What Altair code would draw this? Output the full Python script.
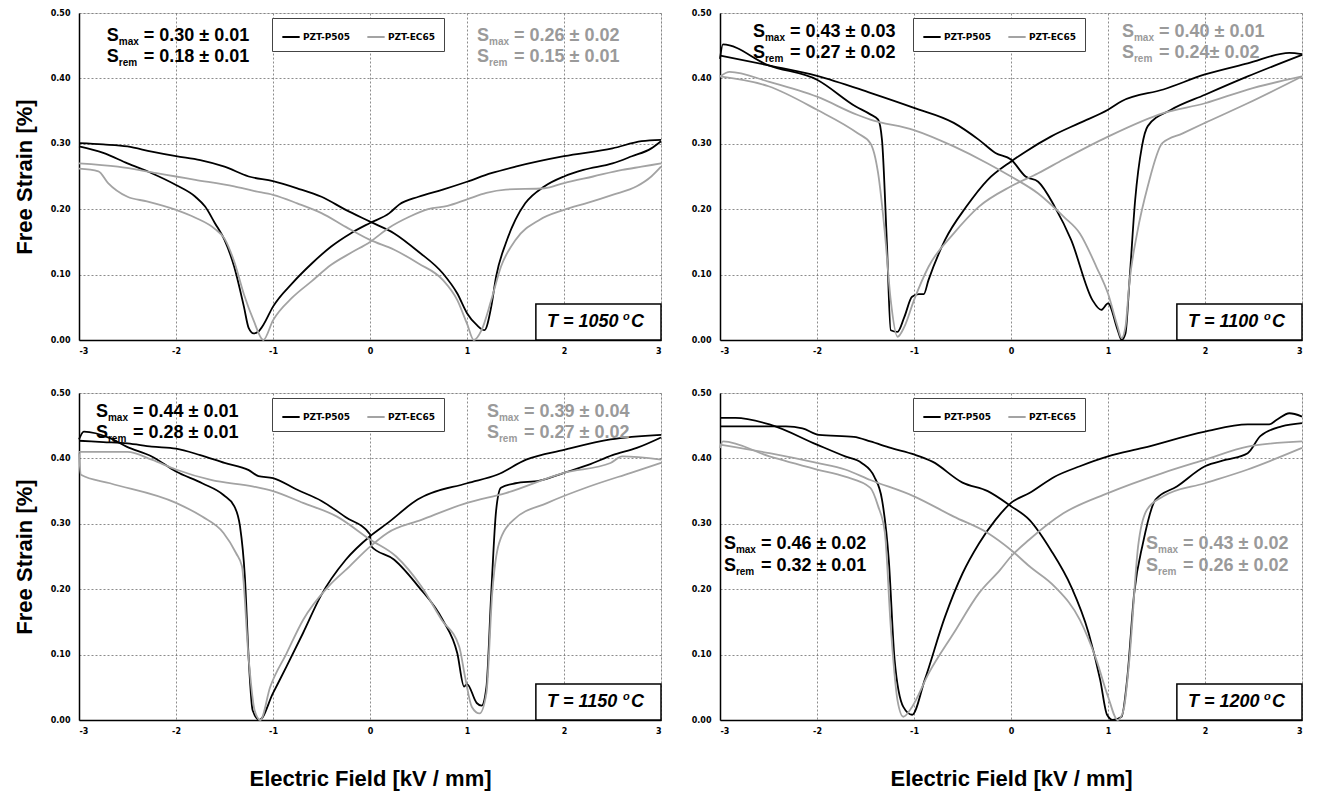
import altair as alt
import pandas as pd

# ---------------- data ----------------
SERIES = ["PZT-P505", "PZT-EC65"]
TEMPS = {"TL": 1050, "TR": 1100, "BL": 1150, "BR": 1200}

# 1050 C
TL_P505_a = [(-3, .301), (-2.75, .299), (-2.5, .296), (-2.25, .288), (-2, .281), (-1.75, .275), (-1.5, .265),
             (-1.25, .25), (-1, .243), (-.75, .232), (-.5, .219), (-.25, .199), (0, .181), (.25, .163), (.5, .135),
             (.75, .102), (.9, .071), (1, .041), (1.1, .023), (1.18, .015), (1.25, .051), (1.3, .097), (1.4, .148),
             (1.5, .184), (1.6, .209), (1.8, .235), (2, .25), (2.2, .26), (2.5, .27), (2.7, .281), (2.9, .293), (3, .304)]
TL_P505_b = [(-3, .296), (-2.75, .286), (-2.5, .27), (-2.25, .255), (-2, .237), (-1.8, .219), (-1.7, .204),
             (-1.6, .179), (-1.5, .153), (-1.4, .112), (-1.3, .051), (-1.25, .018), (-1.2, .01), (-1.15, .013),
             (-1.1, .023), (-1, .051), (-.8, .087), (-.6, .117), (-.4, .143), (-.2, .163), (0, .179), (.2, .194),
             (.3, .207), (.5, .219), (.75, .23), (1, .242), (1.25, .255), (1.5, .265), (2, .281), (2.5, .293),
             (2.8, .304), (3, .306)]
TL_EC65_a = [(-3, .27), (-2.6, .265), (-2.2, .255), (-2, .25), (-1.8, .245), (-1.4, .235), (-1.2, .228), (-1, .222),
             (-.75, .209), (-.5, .194), (-.25, .173), (0, .153), (.25, .138), (.5, .117), (.75, .092), (.9, .061),
             (1, .025), (1.07, 0), (1.15, .015), (1.25, .061), (1.35, .112), (1.5, .153), (1.75, .184), (2, .199),
             (2.25, .21), (2.5, .222), (2.75, .235), (2.9, .25), (3, .265)]
TL_EC65_b = [(-3, .262), (-2.8, .258), (-2.7, .24), (-2.5, .219), (-2.3, .212), (-2, .199), (-1.8, .187),
             (-1.6, .17), (-1.5, .155), (-1.4, .12), (-1.3, .07), (-1.2, .03), (-1.1, 0), (-1, .03), (-.8, .065),
             (-.6, .09), (-.4, .115), (-.2, .133), (0, .15), (.2, .172), (.4, .188), (.6, .2), (.8, .205), (1, .215),
             (1.2, .225), (1.4, .23), (1.8, .232), (2, .24), (2.3, .25), (2.6, .26), (2.8, .265), (3, .27)]

# 1100 C
TR_P505_a = [(-3, .435), (-2.5, .42), (-2, .404), (-1.45, .378), (-1, .355), (-.59, .332), (-.33, .306),
             (-.16, .286), (0, .276), (.15, .25), (.28, .242), (.45, .204), (.62, .153), (.84, .061), (.93, .046),
             (1, .056), (1.1, .015), (1.14, 0), (1.18, .01), (1.22, .087), (1.28, .214), (1.35, .296), (1.41, .327),
             (1.65, .352), (2, .375), (2.44, .403), (3, .436)]
TR_P505_b = [(-3, .43), (-2.97, .452), (-2.5, .42), (-2, .398), (-1.6, .357), (-1.45, .345), (-1.37, .337),
             (-1.33, .306), (-1.28, .15), (-1.24, .015), (-1.17, .0125), (-1.1, .035), (-1.02, .066), (-.95, .07),
             (-.9, .07), (-.85, .092), (-.68, .153), (-.46, .204), (-.24, .245), (0, .273), (.15, .288), (.41, .311),
             (.71, .332), (1, .352), (1.14, .365), (1.57, .383), (2, .406), (2.44, .423), (2.87, .439), (3, .437)]
TR_EC65_a = [(-3, .403), (-2.9, .41), (-2.5, .395), (-2, .372), (-1.58, .344), (-1.45, .337), (-1, .321),
             (-.59, .296), (-.24, .27), (0, .25), (.28, .224), (.54, .189), (.71, .163), (.88, .112), (1, .071),
             (1.1, .02), (1.14, .003), (1.18, .02), (1.22, .087), (1.3, .163), (1.41, .235), (1.56, .301),
             (1.77, .316), (2, .332), (2.44, .362), (3, .403)]
TR_EC65_b = [(-3, .403), (-2.5, .388), (-2, .352), (-1.58, .316), (-1.45, .301), (-1.37, .255), (-1.3, .163),
             (-1.24, .061), (-1.17, .005), (-1.1, .02), (-1, .061), (-.85, .112), (-.59, .163), (-.33, .204),
             (0, .235), (.28, .255), (.54, .276), (1, .311), (1.57, .347), (2, .362), (2.44, .383), (3, .403)]

# 1150 C
BL_P505_a = [(-3, .427), (-2.75, .425), (-2.5, .423), (-2.25, .418), (-2, .415), (-1.75, .405), (-1.5, .393),
             (-1.25, .382), (-1.15, .373), (-1, .37), (-.75, .352), (-.5, .335), (-.25, .31), (0, .284), (.01, .266),
             (.25, .245), (.5, .204), (.75, .153), (.9, .102), (.97, .051), (1, .055), (1.1, .026), (1.15, .022),
             (1.2, .05), (1.25, .194), (1.3, .32), (1.35, .355), (1.5, .362), (1.75, .366), (2, .378), (2.25, .39),
             (2.5, .405), (2.75, .416), (3, .432)]
BL_P505_b = [(-3, .429), (-2.95, .441), (-2.68, .431), (-2.51, .418), (-2.25, .403), (-2, .38), (-1.73, .362),
             (-1.51, .344), (-1.4, .327), (-1.34, .296), (-1.29, .219), (-1.25, .092), (-1.21, .015), (-1.14, 0),
             (-1, .041), (-.86, .082), (-.69, .133), (-.51, .189), (-.25, .245), (0, .281), (.18, .301), (.49, .337),
             (1, .362), (1.31, .375), (1.61, .398), (2, .413), (2.48, .429), (3, .436)]
BL_EC65_a = [(-3, .41), (-2.5, .41), (-2.25, .398), (-2, .383), (-1.64, .367), (-1.2, .357), (-1, .35),
             (-.69, .332), (-.34, .311), (0, .276), (.27, .25), (.53, .204), (.74, .153), (.92, .112), (.98, .066),
             (1.05, .02), (1.13, .01), (1.2, .041), (1.26, .194), (1.33, .27), (1.48, .306), (1.83, .332),
             (2.26, .357), (2.69, .378), (3, .393)]
BL_EC65_b = [(-3, .408), (-2.98, .375), (-2.68, .362), (-2, .332), (-1.73, .311), (-1.51, .286), (-1.38, .255),
             (-1.32, .235), (-1.25, .092), (-1.19, .015), (-1.13, 0), (-1.03, .05), (-.86, .102), (-.69, .153),
             (-.43, .204), (-.21, .235), (0, .265), (.18, .286), (.53, .306), (1, .332), (1.4, .347), (2, .378),
             (2.48, .393), (2.6, .403), (3, .398)]

# 1200 C
BR_P505_a = [(-3, .449), (-2.32, .449), (-2.15, .446), (-1.98, .436), (-1.62, .433), (-1.45, .426), (-1.24, .416),
             (-1, .406), (-.81, .395), (-.5, .363), (-.24, .35), (0, .327), (.19, .306), (.41, .26), (.62, .204),
             (.8, .133), (.92, .061), (.99, .008), (1.05, 0), (1.14, .005), (1.2, .066), (1.27, .194), (1.36, .27),
             (1.49, .337), (1.71, .357), (2, .388), (2.22, .398), (2.44, .408), (2.57, .434), (2.79, .449), (3, .454)]
BR_P505_b = [(-3, .462), (-2.84, .462), (-2.49, .452), (-2, .421), (-1.71, .403), (-1.54, .393), (-1.41, .372),
             (-1.33, .337), (-1.26, .245), (-1.2, .092), (-1.11, .02), (-1.02, .008), (-.89, .061), (-.68, .158),
             (-.5, .224), (-.33, .27), (-.16, .306), (0, .332), (.19, .347), (.45, .372), (.71, .388), (1, .403),
             (1.36, .416), (2, .441), (2.44, .452), (2.66, .452), (2.74, .459), (2.87, .469), (3, .464)]
BR_EC65_a = [(-3, .421), (-2.49, .408), (-2, .393), (-1.71, .383), (-1.45, .367), (-1, .342), (-.59, .311),
             (-.24, .286), (0, .26), (.19, .235), (.45, .204), (.71, .153), (.88, .092), (1, .036), (1.1, 0),
             (1.16, .015), (1.22, .092), (1.31, .265), (1.4, .321), (1.57, .342), (2, .362), (2.44, .383), (3, .416)]
BR_EC65_b = [(-3, .416), (-2.97, .426), (-2.49, .403), (-2, .383), (-1.71, .372), (-1.45, .355), (-1.37, .327),
             (-1.3, .286), (-1.24, .143), (-1.17, .03), (-1.11, .005), (-1.02, .02), (-.85, .071), (-.59, .133),
             (-.33, .194), (-.11, .23), (0, .25), (.19, .276), (.54, .316), (1, .347), (1.57, .378), (2, .398),
             (2.44, .418), (3, .426)]

CURVES = {
    "TL": [("PZT-P505", TL_P505_a), ("PZT-P505", TL_P505_b), ("PZT-EC65", TL_EC65_a), ("PZT-EC65", TL_EC65_b)],
    "TR": [("PZT-P505", TR_P505_a), ("PZT-P505", TR_P505_b), ("PZT-EC65", TR_EC65_a), ("PZT-EC65", TR_EC65_b)],
    "BL": [("PZT-P505", BL_P505_a), ("PZT-P505", BL_P505_b), ("PZT-EC65", BL_EC65_a), ("PZT-EC65", BL_EC65_b)],
    "BR": [("PZT-P505", BR_P505_a), ("PZT-P505", BR_P505_b), ("PZT-EC65", BR_EC65_a), ("PZT-EC65", BR_EC65_b)],
}

# S_max / S_rem values (black = P505, gray = EC65)
S_TEXT = {
    "TL": (("0.30 ± 0.01", "0.18 ± 0.01"), ("0.26 ± 0.02", "0.15 ± 0.01")),
    "TR": (("0.43 ± 0.03", "0.27 ± 0.02"), ("0.40 ± 0.01", "0.24± 0.02")),
    "BL": (("0.44 ± 0.01", "0.28 ± 0.01"), ("0.39 ± 0.04", "0.27 ± 0.02")),
    "BR": (("0.46 ± 0.02", "0.32 ± 0.01"), ("0.43 ± 0.02", "0.26 ± 0.02")),
}

# ---------------- layout / style ----------------
# annotation anchors (field, strain) for the black and gray blocks, plus the two baselines
ANCHOR = {
    "TL": (-2.714, 1.103, 0.457, 0.4255),
    "TR": (-2.66, 1.144, 0.464, 0.431),
    "BL": (-2.825, 1.206, 0.464, 0.431),
    "BR": (-2.96, 1.392, 0.261, 0.228),
}
BOX = (1.71, 3.0, 0.0, 0.055)
TEMP_POS = (1.825, 0.0203)

BLACK = "#000000"
GRAY = "#a3a3a3"
GRAY_TXT = "#9a9a9a"
W, H = 582, 327
TITLE_FONT = "Liberation Sans"
TICK_FONT = "DejaVu Sans"


def curve_df(key):
    rows = []
    for k, (series, pts) in enumerate(CURVES[key]):
        for i, (e, s) in enumerate(pts):
            rows.append({"E": e, "S": s, "series": series, "branch": f"{series}-{k}", "i": i})
    return pd.DataFrame(rows)


def annot_df(key):
    eb, eg, s1, s2 = ANCHOR[key]
    (b1, b2), (g1, g2) = S_TEXT[key]
    return pd.DataFrame([
        {"E": eb, "S": s1, "sub": "max", "rest": "= " + b1, "col": BLACK},
        {"E": eb, "S": s2, "sub": "rem", "rest": "= " + b2, "col": BLACK},
        {"E": eg, "S": s1, "sub": "max", "rest": "= " + g1, "col": GRAY_TXT},
        {"E": eg, "S": s2, "sub": "rem", "rest": "= " + g2, "col": GRAY_TXT},
    ])


def panel(key, left, bottom):
    xs = alt.Scale(domain=[-3, 3], nice=False, zero=False)
    ys = alt.Scale(domain=[0, 0.5], nice=False)
    common = dict(grid=True, gridDash=[2, 2], gridColor="#6f6f6f", gridWidth=0.8,
                  domainColor="black", domainWidth=1.5, ticks=False,
                  labelFont=TICK_FONT, labelFontWeight="bold", labelFontSize=8, labelColor="black",
                  titleFont=TITLE_FONT, titleFontWeight="bold", titleFontSize=22, titleColor="black")
    xaxis = alt.Axis(values=[-3, -2, -1, 0, 1, 2, 3],
                     labelExpr="datum.value < 0 ? '-' + (-datum.value) : '' + datum.value",
                     labelPadding=7, titlePadding=33,
                     title="Electric Field [kV / mm]" if bottom else None, **common)
    yaxis = alt.Axis(values=[0, 0.1, 0.2, 0.3, 0.4, 0.5], format=".2f", labelPadding=9,
                     titlePadding=14, title="Free Strain [%]" if left else None, **common)

    lines = alt.Chart(curve_df(key)).mark_line(strokeWidth=1.8, strokeJoin="round",
                                               interpolate="monotone").encode(
        x=alt.X("E:Q", scale=xs, axis=xaxis),
        y=alt.Y("S:Q", scale=ys, axis=yaxis),
        color=alt.Color("series:N", scale=alt.Scale(domain=SERIES, range=[BLACK, GRAY]),
                        legend=alt.Legend(orient="none", legendX=193, legendY=5, direction="horizontal",
                                          title=None, fillColor="white", strokeColor="#444444",
                                          padding=9, symbolType="stroke", symbolSize=300,
                                          symbolStrokeWidth=2, labelFont=TICK_FONT,
                                          labelFontWeight="bold", labelFontSize=9, labelColor="black",
                                          columnPadding=12, labelOffset=2)),
        detail="branch:N",
        order="i:Q",
    )

    ad = annot_df(key)
    base_t = alt.Chart(ad).encode(x=alt.X("E:Q", scale=xs), y=alt.Y("S:Q", scale=ys),
                                  fill=alt.Fill("col:N", scale=None))
    s_letter = base_t.mark_text(align="left", baseline="alphabetic", font=TITLE_FONT, fontWeight="bold",
                                fontSize=18).encode(text=alt.value("S"))
    s_sub = base_t.mark_text(align="left", baseline="alphabetic", font=TITLE_FONT, fontWeight="bold",
                             fontSize=10, dx=12, dy=4).encode(text="sub:N")
    s_rest = base_t.mark_text(align="left", baseline="alphabetic", font=TITLE_FONT, fontWeight="bold",
                              fontSize=18, dx=37).encode(text="rest:N")

    bx = pd.DataFrame([{"x1": BOX[0], "x2": BOX[1], "y1": BOX[2], "y2": BOX[3]}])
    box = alt.Chart(bx).mark_rect(fill="white", stroke="black", strokeWidth=1.5).encode(
        x=alt.X("x1:Q", scale=xs), x2="x2:Q", y=alt.Y("y1:Q", scale=ys), y2="y2:Q")

    td = pd.DataFrame([{"E": TEMP_POS[0], "S": TEMP_POS[1], "t": f"T = {TEMPS[key]}"}])
    tbase = alt.Chart(td).encode(x=alt.X("E:Q", scale=xs), y=alt.Y("S:Q", scale=ys))
    t_main = tbase.mark_text(align="left", baseline="alphabetic", font=TITLE_FONT, fontWeight="bold",
                             fontStyle="italic", fontSize=18, color="black").encode(text="t:N")
    t_deg = tbase.mark_text(align="left", baseline="alphabetic", font=TITLE_FONT, fontWeight="bold",
                            fontStyle="italic", fontSize=11, color="black", dx=76, dy=-7).encode(
        text=alt.value("o"))
    t_c = tbase.mark_text(align="left", baseline="alphabetic", font=TITLE_FONT, fontWeight="bold",
                          fontStyle="italic", fontSize=18, color="black", dx=84).encode(text=alt.value("C"))

    return alt.layer(lines, box, s_letter, s_sub, s_rest, t_main, t_deg, t_c).properties(width=W, height=H)


row1 = alt.hconcat(panel("TL", True, False), panel("TR", False, False), spacing=27).resolve_scale(
    color="independent")
row2 = alt.hconcat(panel("BL", True, True), panel("BR", False, True), spacing=27).resolve_scale(
    color="independent")

chart = alt.vconcat(row1, row2, spacing=32).resolve_scale(color="independent").properties(
    padding={"left": 12, "top": 8, "right": 5, "bottom": 5}
).configure_view(stroke=None).configure(background="white")

chart.save("out.html", embed_options={"renderer": "svg", "actions": False})
